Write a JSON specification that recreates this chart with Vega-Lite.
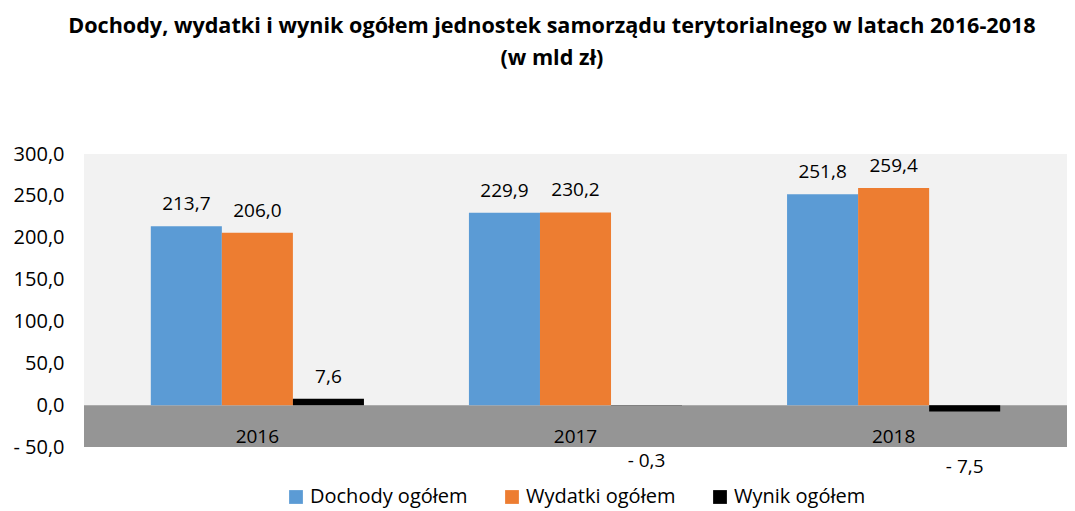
{
  "$schema": "https://vega.github.io/schema/vega-lite/v6.json",
  "autosize": {"type": "fit", "contains": "padding"},
  "width": 1075,
  "height": 511,
  "padding": {"left": 12, "right": 8, "top": 16, "bottom": 4},
  "background": "#ffffff",
  "title": {
    "text": ["Dochody, wydatki i wynik ogółem jednostek samorządu terytorialnego w latach 2016-2018", "(w mld zł)"],
    "font": "Open Sans",
    "fontSize": 21.6,
    "fontWeight": "bold",
    "color": "#000000",
    "lineHeight": 32,
    "offset": 74,
    "anchor": "middle",
    "frame": "bounds",
    "dx": 12
  },
  "layer": [
    {
      "data": {"values": [{"od": -50, "do": 0}]},
      "mark": {"type": "rect", "color": "#959595"},
      "encoding": {
        "y": {"field": "od", "type": "quantitative", "scale": {"domain": [-50, 300], "nice": false}},
        "y2": {"field": "do"}
      }
    },
    {
      "data": {
        "values": [
          {"rok": "2016", "seria": "Dochody ogółem", "wartosc": 213.7},
          {"rok": "2016", "seria": "Wydatki ogółem", "wartosc": 206.0},
          {"rok": "2016", "seria": "Wynik ogółem", "wartosc": 7.6},
          {"rok": "2017", "seria": "Dochody ogółem", "wartosc": 229.9},
          {"rok": "2017", "seria": "Wydatki ogółem", "wartosc": 230.2},
          {"rok": "2017", "seria": "Wynik ogółem", "wartosc": -0.3},
          {"rok": "2018", "seria": "Dochody ogółem", "wartosc": 251.8},
          {"rok": "2018", "seria": "Wydatki ogółem", "wartosc": 259.4},
          {"rok": "2018", "seria": "Wynik ogółem", "wartosc": -7.5}
        ]
      },
      "transform": [
        {"calculate": "(datum.wartosc < 0 ? '- ' : '') + replace(format(abs(datum.wartosc), '.1f'), '.', ',')", "as": "etykieta"}
      ],
      "encoding": {
        "x": {
          "field": "rok",
          "type": "nominal",
          "title": null,
          "scale": {"paddingInner": 0.33, "paddingOuter": 0.21},
          "axis": {"labelAngle": 0, "labelFont": "Open Sans", "labelFontSize": 19, "labelColor": "#000000", "domain": false, "ticks": false, "labelPadding": -20, "zindex": 2}
        },
        "xOffset": {"field": "seria", "type": "nominal", "scale": {"paddingInner": 0}},
        "y": {
          "field": "wartosc",
          "type": "quantitative",
          "title": null,
          "scale": {"domain": [-50, 300], "nice": false},
          "axis": {
            "values": [-50, 0, 50, 100, 150, 200, 250, 300],
            "labelExpr": "(datum.value < 0 ? '- ' : '') + replace(format(abs(datum.value), '.1f'), '.', ',')",
            "labelFont": "Open Sans",
            "labelFontSize": 20,
            "labelColor": "#000000",
            "domain": false,
            "ticks": false,
            "labelPadding": 20,
            "grid": false
          }
        }
      },
      "layer": [
        {
          "mark": {"type": "bar"},
          "encoding": {
            "color": {
              "field": "seria",
              "type": "nominal",
              "title": null,
              "scale": {"domain": ["Dochody ogółem", "Wydatki ogółem", "Wynik ogółem"], "range": ["#5B9BD5", "#ED7D31", "#000000"]},
              "legend": {"orient": "bottom", "direction": "horizontal", "symbolType": "square", "symbolSize": 190, "symbolStrokeWidth": 0, "labelFont": "Open Sans", "labelFontSize": 20, "labelColor": "#000000", "columnPadding": 34, "offset": 40}
            }
          }
        },
        {
          "transform": [{"filter": "datum.wartosc >= 0"}],
          "mark": {"type": "text", "font": "Open Sans", "fontSize": 19, "color": "#000000", "dy": -22},
          "encoding": {"text": {"field": "etykieta"}}
        },
        {
          "transform": [{"filter": "datum.wartosc < 0"}],
          "mark": {"type": "text", "font": "Open Sans", "fontSize": 19, "color": "#000000", "dy": 56},
          "encoding": {"text": {"field": "etykieta"}}
        }
      ]
    }
  ],
  "config": {
    "view": {"fill": "#f2f2f2", "stroke": null},
    "legend": {"layout": {"bottom": {"anchor": "middle"}}}
  }
}
